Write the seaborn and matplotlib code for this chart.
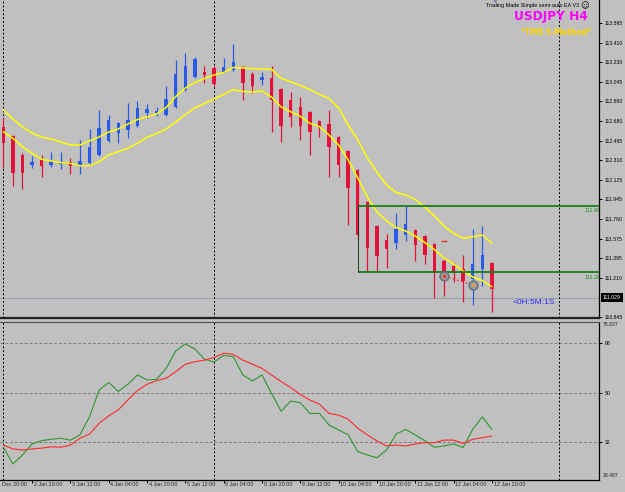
import matplotlib
matplotlib.use("Agg")
import matplotlib.pyplot as plt
import matplotlib.transforms as mtransforms
from matplotlib import font_manager
import numpy as np
import pandas as pd
import seaborn as sns

# USDJPY H4 candles, bar 0 = 2 Jan 08:00 ... bar 51 = 12 Jan 20:00
bar_open = [112.621, 112.537, 112.360, 112.266, 112.313, 112.266, 112.276, 112.294, 112.266, 112.285,
            112.360, 112.491, 112.565, 112.593, 112.631, 112.752, 112.752, 112.733, 112.808, 112.967,
            113.088, 113.135, 113.172, 113.135, 113.153, 113.181, 113.116, 113.060, 113.079, 112.976,
            112.873, 112.808, 112.761, 112.677, 112.649, 112.528, 112.397, 112.220, 111.921, 111.697,
            111.566, 111.538, 111.613, 111.660, 111.603, 111.529, 111.370, 111.323, 111.295, 111.202,
            111.295, 111.351]
bar_high = [112.705, 112.547, 112.378, 112.350, 112.360, 112.388, 112.388, 112.332, 112.500, 112.603,
            112.780, 112.733, 112.668, 112.845, 112.864, 112.836, 112.808, 113.004, 113.247, 113.312,
            113.275, 113.191, 113.191, 113.265, 113.396, 113.191, 113.135, 113.135, 113.191, 112.985,
            112.948, 112.901, 112.771, 112.687, 112.780, 112.537, 112.406, 112.229, 111.930, 111.706,
            111.622, 111.818, 111.884, 111.669, 111.613, 111.538, 111.389, 111.351, 111.426, 111.669,
            111.697, 111.361]
bar_low = [112.238, 112.070, 112.042, 112.238, 112.154, 112.248, 112.229, 112.182, 112.182, 112.266,
           112.350, 112.481, 112.472, 112.519, 112.621, 112.705, 112.724, 112.724, 112.800, 112.960,
           113.079, 113.032, 113.004, 113.125, 113.144, 112.873, 112.939, 113.013, 112.575, 112.481,
           112.621, 112.500, 112.360, 112.528, 112.154, 112.154, 111.706, 111.566, 111.267, 111.277,
           111.305, 111.482, 111.557, 111.370, 111.342, 111.025, 111.043, 111.174, 110.987, 110.959,
           111.137, 110.894]
bar_close = [112.472, 112.192, 112.192, 112.294, 112.257, 112.304, 112.294, 112.257, 112.304, 112.434,
             112.612, 112.687, 112.659, 112.687, 112.799, 112.789, 112.771, 112.883, 113.116, 113.191,
             113.256, 113.107, 113.023, 113.181, 113.228, 113.032, 113.004, 113.088, 112.873, 112.631,
             112.715, 112.631, 112.575, 112.612, 112.434, 112.266, 112.052, 111.613, 111.491, 111.417,
             111.482, 111.669, 111.716, 111.519, 111.426, 111.267, 111.239, 111.267, 111.183, 111.342,
             111.426, 111.109]

# the two yellow moving averages
ma_upper = [112.780, 112.696, 112.621, 112.565, 112.528, 112.509, 112.481, 112.453, 112.453, 112.491,
            112.528, 112.575, 112.603, 112.649, 112.691, 112.715, 112.743, 112.803, 112.906, 112.985,
            113.037, 113.074, 113.107, 113.130, 113.177, 113.172, 113.167, 113.163, 113.160, 113.076,
            113.044, 113.009, 112.971, 112.925, 112.887, 112.799, 112.640, 112.500, 112.332, 112.201,
            112.080, 112.010, 111.986, 111.944, 111.874, 111.790, 111.697, 111.629, 111.582, 111.597,
            111.613, 111.538]
ma_lower = [112.577, 112.516, 112.437, 112.376, 112.320, 112.304, 112.288, 112.282, 112.260, 112.260,
            112.297, 112.360, 112.391, 112.422, 112.469, 112.525, 112.560, 112.603, 112.668, 112.738,
            112.799, 112.841, 112.883, 112.925, 112.971, 112.953, 112.948, 112.957, 112.901, 112.808,
            112.764, 112.721, 112.656, 112.624, 112.547, 112.453, 112.313, 112.145, 111.968, 111.828,
            111.744, 111.683, 111.650, 111.604, 111.543, 111.477, 111.398, 111.342, 111.277, 111.221,
            111.188, 111.130]

# oscillator sub window
osc_green = [30.2, 24.1, 27.4, 31.4, 32.6, 33.1, 33.5, 32.8, 34.7, 41.3,
             51.0, 53.8, 50.5, 53.1, 56.5, 54.7, 54.9, 58.9, 65.2, 67.8,
             65.9, 62.2, 61.2, 63.6, 63.2, 56.5, 54.3, 56.5, 49.8, 43.3,
             47.0, 46.4, 42.5, 42.5, 38.3, 36.5, 34.7, 28.6, 27.4, 26.4,
             29.2, 35.0, 36.7, 34.7, 32.6, 30.2, 30.7, 31.4, 30.1, 36.7,
             41.3, 36.7]
osc_red = [31.0, 29.6, 29.2, 29.6, 29.9, 30.4, 30.2, 31.0, 33.5, 35.0,
           38.9, 41.6, 43.8, 47.4, 50.8, 53.1, 54.4, 55.3, 57.7, 60.4,
           61.3, 61.9, 62.8, 64.4, 64.0, 61.9, 60.4, 58.9, 56.5, 54.1,
           51.9, 49.4, 47.4, 45.9, 42.5, 41.9, 40.4, 37.1, 34.7, 32.5,
           30.7, 31.0, 30.7, 31.4, 31.9, 31.9, 32.8, 32.8, 31.6, 33.1,
           33.7, 34.3]

time_labels = ["Dec 20:00", "2 Jan 20:00", "3 Jan 12:00", "4 Jan 04:00", "4 Jan 20:00",
               "5 Jan 12:00", "8 Jan 04:00", "8 Jan 20:00", "9 Jan 12:00", "10 Jan 04:00",
               "10 Jan 20:00", "11 Jan 12:00", "12 Jan 04:00", "12 Jan 20:00"]
time_label_bars = [-1, 3, 7, 11, 15, 19, 23, 27, 31, 35, 39, 43, 47, 51]
week_separators = [0, 22, 58]

price_ticks = [113.595, 113.410, 113.230, 113.045, 112.860, 112.680, 112.495, 112.310,
               112.125, 111.945, 111.760, 111.575, 111.395, 111.210, 110.845]
price_range = [110.838, 113.807]
bid_price = 111.029
box_levels = [111.884, 111.267]
box_start = 37
trade_bars = [46, 49]
trade_prices = [111.230, 111.146]
pending_bar, pending_price = 46, 111.557

osc_levels = [68, 50, 32]
osc_range = [18.487, 75.837]

BG = "#C0C0C0"
BULL = "#2A5BE8"
BEAR = "#E2123A"

sns.set_theme(style="white", rc={"axes.facecolor": BG, "figure.facecolor": BG})
plt.rcParams["font.family"] = ["DejaVu Sans"]
names = {f.name for f in font_manager.fontManager.ttflist}
axis_font = "Liberation Sans Narrow" if "Liberation Sans Narrow" in names else "Liberation Sans"
axis_size = 4.3 if axis_font == "Liberation Sans Narrow" else 3.7

df = pd.DataFrame({"bar": np.arange(len(bar_open)), "open": bar_open, "high": bar_high,
                   "low": bar_low, "close": bar_close, "ma_upper": ma_upper,
                   "ma_lower": ma_lower, "green": osc_green, "red": osc_red})

W, H = 625, 492
fig = plt.figure(figsize=(W / 100, H / 100), dpi=100, facecolor=BG)
ax = fig.add_axes([0, 1 - 318 / H, 599 / W, 318 / H])
ax2 = fig.add_axes([0, 1 - 479.5 / H, 599 / W, (479.5 - 321.75) / H])
xl, xr = -0.3445, 62.18

# candles
colors = np.where(df["close"] >= df["open"], BULL, BEAR)
ax.vlines(df["bar"], df["low"], df["high"], colors=colors, lw=0.9, zorder=2)
body_lo = np.minimum(df["open"], df["close"])
body_h = np.maximum((df["close"] - df["open"]).abs(), 0.014)
ax.bar(df["bar"], body_h, bottom=body_lo, width=0.36, color=colors, lw=0, zorder=2)

sns.lineplot(data=df, x="bar", y="ma_upper", color="#FFFF00", lw=1.1, ax=ax, zorder=3)
sns.lineplot(data=df, x="bar", y="ma_lower", color="#FFFF00", lw=1.1, ax=ax, zorder=3)

ax.axhline(bid_price, color="#9AA2B2", lw=0.8, zorder=1)
ax.hlines(box_levels, box_start, xr, color="#0B7A0B", lw=1.2, zorder=4)
ax.vlines(box_start, box_levels[1], box_levels[0], color="#1F3F1F", lw=0.7, zorder=4)
lab_tr = mtransforms.blended_transform_factory(ax.transAxes, ax.transData) + \
    mtransforms.ScaledTranslation(0, -5 / 100, fig.dpi_scale_trans)
for lv in box_levels:
    ax.text(585 / 599, lv, f"{lv:.3f}", transform=lab_tr, color="#1E8C1E", fontsize=axis_size + 0.3,
            family=axis_font, ha="left", va="center", clip_on=True, zorder=5)

# trade arrows
ax.plot(trade_bars, trade_prices, color="#FF3030", ls=(0, (2, 2)), lw=0.8, zorder=5)
ax.scatter(trade_bars, trade_prices, s=40, facecolors="#9A9EA6", edgecolors="#6F737B",
           linewidths=1.2, zorder=6)
ax.scatter(trade_bars[:1], trade_prices[:1], s=8, marker="+", color="#FF2020", linewidths=0.9, zorder=7)
ax.scatter(trade_bars[1:], trade_prices[1:], s=5, marker="o", color="#FFA020", linewidths=0, zorder=7)
ax.plot([pending_bar], [pending_price], marker="_", ms=5, mew=1, color="#E03030", zorder=5)

# oscillator window
sns.lineplot(data=df, x="bar", y="green", color="#2E962E", lw=0.8, ax=ax2, zorder=3)
sns.lineplot(data=df, x="bar", y="red", color="#FF2A2A", lw=0.8, ax=ax2, zorder=3)
for lv in osc_levels:
    ax2.axhline(lv, color="#7C7C7C", ls=(0, (3, 2)), lw=0.7, zorder=1)

for a in (ax, ax2):
    for b in week_separators:
        a.axvline(b, color="black", ls=(0, (2, 2)), lw=0.7, zorder=1)
    a.set_xlim(xl, xr)
    a.set_xlabel("")
    a.set_ylabel("")
    a.set_facecolor(BG)
    a.spines["left"].set_visible(False)
    a.spines["right"].set_color("black")
    a.spines["right"].set_linewidth(0.9)

ax.set_ylim(*price_range)
ax2.set_ylim(*osc_range)
ax.spines["top"].set_visible(False)
ax.spines["bottom"].set_color("#202020")
ax.spines["bottom"].set_linewidth(1.6)
ax2.spines["top"].set_color("#505050")
ax2.spines["top"].set_linewidth(0.8)
ax2.spines["bottom"].set_color("black")
ax2.spines["bottom"].set_linewidth(0.9)

ax.set_xticks([])
ax.yaxis.tick_right()
ax.set_yticks(price_ticks)
ax.set_yticklabels([f"{p:.3f}" for p in price_ticks], family=axis_font)
ax2.yaxis.tick_right()
ax2.set_yticks(osc_levels)
ax2.set_yticklabels([str(v) for v in osc_levels], family=axis_font)
for a in (ax, ax2):
    a.tick_params(axis="y", right=True, left=False, labelright=True, labelleft=False,
                  direction="out", length=2.2, width=0.7, pad=2.2, labelsize=axis_size,
                  colors="black")
for txt, ypx in ((f"{osc_range[1]:.3f}", 324.0), (f"{osc_range[0]:.3f}", 475.7)):
    fig.text(603 / W, 1 - ypx / H, txt, family=axis_font, fontsize=axis_size, ha="left", va="center")

# bid price box
ax.text(1.0, bid_price, f"{bid_price:.3f}", transform=mtransforms.blended_transform_factory(
    ax.transAxes, ax.transData) + mtransforms.ScaledTranslation(4 / 100, 0, fig.dpi_scale_trans),
    color="white", family=axis_font, fontsize=axis_size, ha="left", va="center", clip_on=False,
    bbox=dict(boxstyle="square,pad=0.35", fc="black", ec="none"), zorder=10)

# time axis
ax2.set_xticks([b for b in time_label_bars if b >= xl])
ax2.set_xticklabels([])
ax2.tick_params(axis="x", bottom=True, direction="out", length=2.5, width=0.7, colors="black")
tt = mtransforms.blended_transform_factory(ax2.transData, fig.transFigure)
for lab, b in zip(time_labels, time_label_bars):
    ax2.text(max(b, xl) + 0.18, 1 - 484.5 / H, lab, transform=tt, family=axis_font,
             fontsize=axis_size + 0.2, ha="left", va="center", clip_on=False)

# header texts
fig.text(579 / W, 1 - 6 / H, "Trading Made Simple semi-auto EA V3", family="Liberation Sans",
         fontsize=3.9, ha="right", va="center", color="black")
fig.text(584.5 / W, 1 - 6 / H, "\u263A", fontsize=6, ha="center", va="center", color="black")
fig.text(587.5 / W, 1 - 16.7 / H, "USDJPY H4", fontsize=8.7, weight="bold", ha="right",
         va="center", color="#FF00FF")
fig.text(591.5 / W, 1 - 32.5 / H, "*TMS 5-Method*", fontsize=5.5, weight="bold", ha="right",
         va="center", color="#FFD700")
fig.text(513 / W, 1 - 302.7 / H, "<0H:5M:1S", family="Liberation Sans", fontsize=6,
         ha="left", va="center", color="#2B2BFF")
ax.plot([495 / 599], [1.0], marker="v", ms=3, color="#7F8FA8", transform=ax.transAxes,
        clip_on=False, zorder=10)

fig.savefig("out.png", dpi=100, facecolor=BG)
